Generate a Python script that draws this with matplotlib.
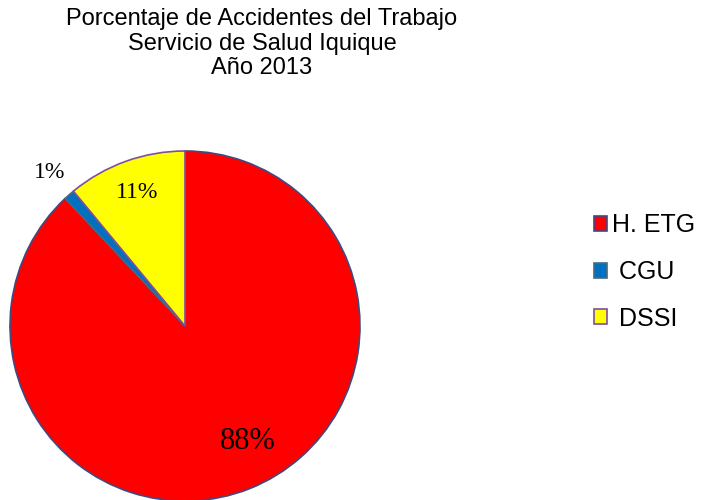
import numpy as np
import matplotlib
matplotlib.use("Agg")
import matplotlib.pyplot as plt
from matplotlib.patches import Patch

# data
categories = ["H. ETG", "CGU", "DSSI"]
percent = [88, 1, 11]
pct_labels = ["88%", "1%", "11%"]
colors = ["#FF0000", "#0070C0", "#FFFF00"]
edges = ["#3F4A80", "#4A6A80", "#7E4F9E"]

W, H = 702, 500
fig = plt.figure(figsize=(W / 100, H / 100), dpi=100)

cx, cy, r = 185, 326, 175
ax = fig.add_axes([(cx - r) / W, (H - cy - r) / H, 2 * r / W, 2 * r / H])

wedges, _ = ax.pie(percent, colors=colors, startangle=90, counterclock=False,
                   wedgeprops=dict(linewidth=1.2))
for w, ec in zip(wedges, edges):
    w.set_edgecolor(ec)
ax.set_xlim(-1, 1)
ax.set_ylim(-1, 1)
ax.set_aspect("equal")

# percent labels
dist = [0.75, 1.17, 0.81]
shift = [7, 0, 0]
sizes = [22, 17, 17]
for w, lab, d, s, fs in zip(wedges, pct_labels, dist, shift, sizes):
    ang = np.radians((w.theta1 + w.theta2) / 2 + s)
    ax.text(d * np.cos(ang), d * np.sin(ang), lab, ha="center", va="center",
            fontsize=fs, family="Liberation Serif")

fig.text(262 / W, 1 - 8 / H,
         "Porcentaje de Accidentes del Trabajo\nServicio de Salud Iquique\nAño 2013",
         ha="center", va="top", fontsize=17, family="Liberation Sans",
         linespacing=1.15)

handles = [Patch(facecolor=c, edgecolor=e, linewidth=1.2) for c, e in zip(colors, edges)]
fig.legend(handles, ["H. ETG", " CGU", " DSSI"], loc="upper left",
           bbox_to_anchor=(571 / W, 1 - 191 / H), frameon=False,
           prop=dict(family="Liberation Sans", size=18),
           handlelength=0.55, handleheight=0.55, handletextpad=0.2,
           labelspacing=0.9)

fig.savefig("out.png", dpi=100)
